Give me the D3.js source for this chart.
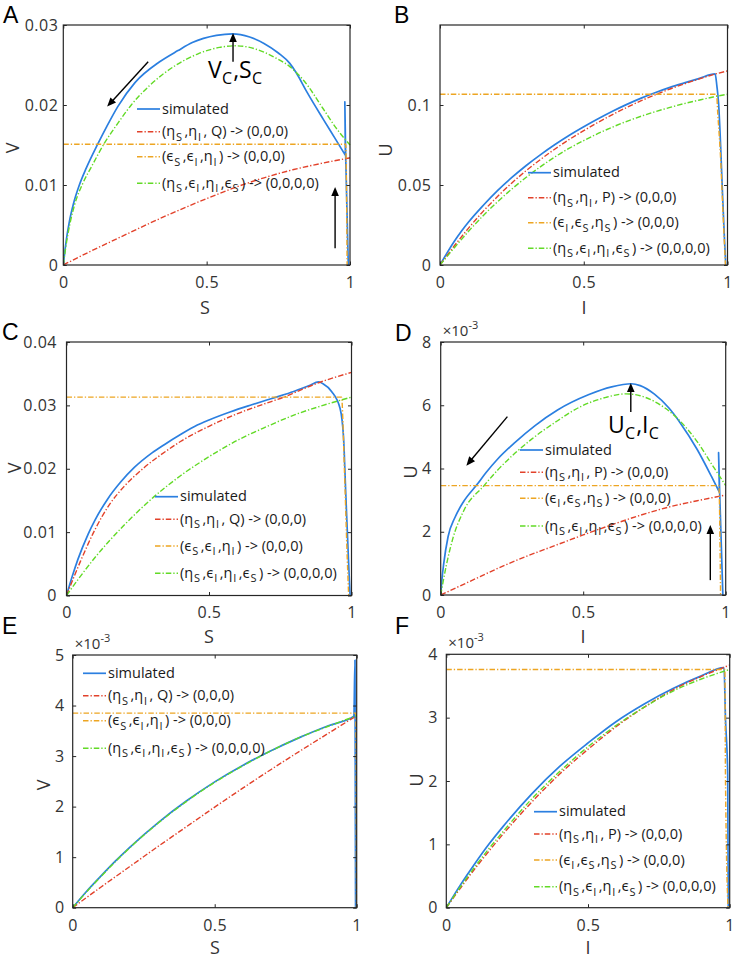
<!DOCTYPE html>
<html><head><meta charset="utf-8">
<script src="https://cdn.jsdelivr.net/npm/d3@7"></script>
<style>body{margin:0;background:#fff}</style>
</head><body>
<svg id="fig" width="736" height="960" xmlns="http://www.w3.org/2000/svg"></svg>
<script>
// ---------------- DATA ----------------
const xTicks = [0, 0.5, 1];
const xTickLabels = ["0", "0.5", "1"];
const yTicksA = [0, 0.01, 0.02, 0.03], yTickLabelsA = ["0", "0.01", "0.02", "0.03"];
const yTicksB = [0, 0.05, 0.1],        yTickLabelsB = ["0", "0.05", "0.1"];
const yTicksC = [0, 0.01, 0.02, 0.03, 0.04], yTickLabelsC = ["0", "0.01", "0.02", "0.03", "0.04"];
const yTicksD = [0, 2, 4, 6, 8],       yTickLabelsD = ["0", "2", "4", "6", "8"];
const yTicksE = [0, 1, 2, 3, 4, 5],    yTickLabelsE = ["0", "1", "2", "3", "4", "5"];
const yTicksF = [0, 1, 2, 3, 4],       yTickLabelsF = ["0", "1", "2", "3", "4"];

const legendSV = ["simulated", "(η_S,η_I, Q) -> (0,0,0)", "(ϵ_S,ϵ_I,η_I) -> (0,0,0)", "(η_S,ϵ_I,η_I,ϵ_S) -> (0,0,0,0)"];
const legendUI = ["simulated", "(η_S,η_I, P) -> (0,0,0)", "(ϵ_I,ϵ_S,η_S) -> (0,0,0)", "(η_S,ϵ_I,η_I,ϵ_S) -> (0,0,0,0)"];

// Panel A : V vs S
const A_sim_x = [0,0.005,0.01,0.021,0.035,0.056,0.08,0.12,0.15,0.19,0.25,0.336,0.4,0.45,0.534,0.59,0.65,0.7,0.75,0.79,0.813,0.85,0.907,0.95,0.984,0.982,0.985,0.994];
const A_sim_y = [0,0.0016,0.0030,0.0054,0.0076,0.0100,0.0121,0.0151,0.0172,0.0198,0.0228,0.0254,0.0268,0.0278,0.0287,0.0289,0.0285,0.0277,0.0265,0.0252,0.0240,0.0216,0.0182,0.0157,0.0137,0.0204,0.0135,0];
const A_red_x = [0,0.1,0.2,0.3,0.4,0.5,0.6,0.7,0.8,0.9,1];
const A_red_y = [0,0.0018,0.0035,0.0052,0.0068,0.0083,0.0097,0.0109,0.0119,0.0127,0.0134];
const A_org_x = [0,0.985,0.99];
const A_org_y = [0.0151,0.0151,0];
const A_grn_x = [0,0.012,0.024,0.04,0.068,0.1,0.143,0.19,0.237,0.3,0.394,0.47,0.545,0.6,0.65,0.7,0.75,0.79,0.84,0.907,0.95,1.0];
const A_grn_y = [0,0.0030,0.0053,0.0076,0.0102,0.0124,0.0152,0.0177,0.0200,0.0224,0.0250,0.0264,0.0272,0.0274,0.0272,0.0266,0.0257,0.0248,0.0230,0.0195,0.0172,0.0150];

// Panel B : U vs I
const B_sim_x = [0,0.025,0.05,0.075,0.1,0.15,0.2,0.25,0.3,0.35,0.4,0.45,0.5,0.55,0.6,0.65,0.7,0.75,0.8,0.85,0.9,0.957,0.963,0.969,0.976,0.983,0.989,0.994];
const B_sim_y = [0,0.0077,0.0148,0.0212,0.0270,0.0372,0.0465,0.0547,0.0622,0.0690,0.0753,0.0811,0.0864,0.0914,0.0961,0.1004,0.1043,0.1078,0.1110,0.1138,0.1165,0.1194,0.1120,0.1010,0.0750,0.0430,0.0180,0];
const B_red_x = [0,0.05,0.1,0.15,0.2,0.25,0.3,0.35,0.4,0.45,0.5,0.55,0.6,0.65,0.7,0.75,0.8,0.85,0.9,0.95,1];
const B_red_y = [0,0.0120,0.0232,0.0335,0.0428,0.0513,0.0590,0.0660,0.0725,0.0785,0.0840,0.0892,0.0940,0.0985,0.1027,0.1065,0.1100,0.1132,0.1162,0.1190,0.1213];
const B_org_x = [0,0.962,0.966,0.975,0.985,0.993];
const B_org_y = [0.1067,0.1067,0.095,0.070,0.030,0];
const B_grn_x = [0,0.05,0.1,0.15,0.2,0.25,0.3,0.35,0.4,0.45,0.5,0.55,0.6,0.65,0.7,0.75,0.8,0.85,0.9,0.95,1.0];
const B_grn_y = [0,0.0108,0.0212,0.0308,0.0395,0.0475,0.0548,0.0615,0.0676,0.0730,0.0778,0.0822,0.0862,0.0898,0.0930,0.0959,0.0985,0.1009,0.1030,0.1050,0.1067];

// Panel C : V vs S
const C_sim_x = [0,0.02,0.04,0.076,0.1,0.144,0.19,0.238,0.3,0.343,0.4,0.459,0.5,0.576,0.65,0.692,0.75,0.797,0.85,0.885,0.9,0.93,0.96,0.972,0.98,0.99,0.995];
const C_sim_y = [0,0.0030,0.0057,0.0097,0.0119,0.0152,0.0179,0.0202,0.0225,0.0238,0.0254,0.0269,0.0277,0.0290,0.0301,0.0307,0.0315,0.0322,0.0331,0.0337,0.0334,0.0322,0.0295,0.0250,0.0160,0.0050,0];
const C_red_x = [0,0.05,0.1,0.15,0.2,0.273,0.35,0.4,0.5,0.6,0.692,0.762,0.8,0.88,0.94,1];
const C_red_y = [0,0.0055,0.0104,0.0143,0.0171,0.0202,0.0228,0.0243,0.0267,0.0287,0.0302,0.0313,0.0320,0.0335,0.0344,0.0352];
const C_org_x = [0,0.965,0.975,0.985,0.99];
const C_org_y = [0.0313,0.0313,0.020,0.006,0];
const C_grn_x = [0,0.05,0.1,0.2,0.3,0.4,0.5,0.6,0.7,0.8,0.9,1];
const C_grn_y = [0,0.0031,0.0060,0.0110,0.0153,0.0189,0.0219,0.0245,0.0266,0.0285,0.0300,0.0313];

// Panel D : U vs I (x 1e-3)
const D_sim_x = [0,0.005,0.01,0.026,0.05,0.08,0.128,0.16,0.2,0.26,0.33,0.41,0.518,0.6,0.669,0.7,0.75,0.8,0.84,0.9,0.95,0.978,0.975,0.979,0.99];
const D_sim_y = [0,0.55,0.95,1.85,2.45,2.95,3.50,3.88,4.30,4.82,5.35,5.85,6.33,6.58,6.68,6.62,6.35,5.92,5.45,4.60,3.75,3.25,4.50,3.20,0];
const D_red_x = [0,0.1,0.225,0.3,0.4,0.5,0.6,0.7,0.8,0.9,1.0];
const D_red_y = [0,0.42,0.94,1.22,1.56,1.90,2.22,2.52,2.78,2.98,3.16];
const D_org_x = [0,0.976,0.982];
const D_org_y = [3.46,3.46,0];
const D_grn_x = [0,0.02,0.043,0.08,0.152,0.2,0.318,0.4,0.494,0.58,0.65,0.7,0.75,0.84,0.9,0.95,1.0];
const D_grn_y = [0,0.95,1.80,2.65,3.46,3.95,4.92,5.45,5.97,6.25,6.36,6.30,6.12,5.50,4.85,4.15,3.46];

// Panel E : V vs S (x 1e-3)
const E_sim_x = [0,0.05,0.1,0.15,0.2,0.3,0.4,0.5,0.6,0.7,0.8,0.9,0.99,0.994,0.996];
const E_sim_y = [0,0.33,0.63,0.92,1.19,1.68,2.11,2.49,2.82,3.11,3.37,3.60,3.79,4.90,0];
const E_red_x = [0,0.1,0.2,0.3,0.4,0.5,0.6,0.7,0.8,0.9,1];
const E_red_y = [0,0.41,0.81,1.21,1.60,1.99,2.37,2.74,3.10,3.45,3.80];
const E_org_x = [0,0.997,0.999];
const E_org_y = [3.85,3.85,0];
const E_grn_x = [0,0.05,0.1,0.15,0.2,0.3,0.4,0.5,0.6,0.7,0.8,0.9,1];
const E_grn_y = [0,0.32,0.62,0.91,1.18,1.67,2.10,2.48,2.81,3.11,3.37,3.59,3.80];

// Panel F : U vs I (x 1e-3)
const F_sim_x = [0,0.05,0.1,0.15,0.2,0.3,0.4,0.5,0.6,0.7,0.8,0.9,0.98,0.985,0.993,0.995];
const F_sim_y = [0,0.36,0.69,1.00,1.28,1.79,2.23,2.60,2.94,3.22,3.46,3.66,3.79,3.0,2.1,0];
const F_red_x = [0,0.05,0.1,0.15,0.2,0.3,0.4,0.5,0.6,0.7,0.8,0.9,1];
const F_red_y = [0,0.31,0.61,0.89,1.16,1.66,2.11,2.50,2.86,3.17,3.44,3.65,3.83];
const F_org_x = [0,0.983,0.985,0.994];
const F_org_y = [3.76,3.76,2.1,0];
const F_grn_x = [0,0.05,0.1,0.15,0.2,0.3,0.4,0.5,0.6,0.7,0.8,0.9,1];
const F_grn_y = [0,0.33,0.64,0.93,1.20,1.71,2.15,2.54,2.88,3.17,3.42,3.61,3.76];

// annotations (data units): arrows [x1,y1,x2,y2] tail -> tip
const A_arrows = [[0.592,0.0254,0.592,0.0290],[0.296,0.0254,0.153,0.0198],[0.948,0.0021,0.948,0.00975]];
const A_note = {x:0.505, y:0.0234, text:"V_C,S_C"};
const D_arrows = [[0.667,5.79,0.667,6.70],[0.234,5.64,0.090,4.09],[0.946,0.47,0.946,2.21]];
const D_note = {x:0.587, y:5.12, text:"U_C,I_C"};

// ---------------- DRAWING ----------------
const svg = d3.select('#fig');
const FONT = "'Open Sans','Noto Sans',sans-serif";
const colBlue = '#2b7fe0', colRed = '#e2412a', colOrange = '#eda522', colGreen = '#62da26', axisCol = '#262626', textCol = '#333333';
const styles = [
  {color: colBlue, w: 1.7, dash: null},
  {color: colRed, w: 1.4, dash: '5.5,2,1.3,2'},
  {color: colOrange, w: 1.4, dash: '5.5,2,1.3,2'},
  {color: colGreen, w: 1.4, dash: '5.5,2,1.3,2'}
];

function rich(sel, str, subSize, subDy, gap) {
  let buf = '', shift = 0, dx = 0;
  const flush = () => {
    if (buf) {
      const t = sel.append('tspan').text(buf);
      if (shift) t.attr('dy', shift);
      if (dx) t.attr('dx', dx);
      shift = 0; dx = 0; buf = '';
    }
  };
  for (let i = 0; i < str.length; i++) {
    const c = str[i];
    if (c === '_') {
      flush();
      sel.append('tspan').attr('dy', subDy + shift).attr('dx', gap * 0.3).attr('font-size', subSize).text(str[i + 1]);
      shift = -subDy; dx = gap; i++;
      continue;
    }
    buf += c;
  }
  flush();
}

function arrow(g, x1, y1, x2, y2) {
  const L = 9, hw = 3.8;
  const dx = x2 - x1, dy = y2 - y1, len = Math.hypot(dx, dy);
  const ux = dx / len, uy = dy / len;
  const bx = x2 - ux * L, by = y2 - uy * L;
  g.append('line').attr('x1', x1).attr('y1', y1).attr('x2', bx + ux).attr('y2', by + uy)
    .attr('stroke', '#000').attr('stroke-width', 1.4);
  g.append('path').attr('d', `M${x2},${y2}L${bx - uy * hw},${by + ux * hw}L${bx + uy * hw},${by - ux * hw}Z`).attr('fill', '#000');
}

const panels = [
  {id:'A', l:63.3, r:350, t:25, b:265, ymax:0.03, yt:yTicksA, ytl:yTickLabelsA, ypad:5, xl:'S', yl:'V',
   xlab:[205,308], ylab:[13,148], letter:[3,23], exp:false,
   series:[[A_sim_x,A_sim_y],[A_red_x,A_red_y],[A_org_x,A_org_y],[A_grn_x,A_grn_y]], leg:legendSV, legX:137, legY:[109,131.7,156.7,183.3],
   arrows:A_arrows, note:A_note},
  {id:'B', l:440, r:727.5, t:25, b:265, ymax:0.15, yt:yTicksB, ytl:yTickLabelsB, ypad:8.5, xl:'I', yl:'U',
   xlab:[584,308], ylab:[386,150], letter:[394,23], exp:false,
   series:[[B_sim_x,B_sim_y],[B_red_x,B_red_y],[B_org_x,B_org_y],[B_grn_x,B_grn_y]], leg:legendUI, legX:528, legY:[172.7,197.7,222.7,248.3]},
  {id:'C', l:66.5, r:351.5, t:342, b:595.5, ymax:0.04, yt:yTicksC, ytl:yTickLabelsC, ypad:9.5, xl:'S', yl:'V',
   xlab:[209,637], ylab:[15,468], letter:[2,340], exp:false,
   series:[[C_sim_x,C_sim_y],[C_red_x,C_red_y],[C_org_x,C_org_y],[C_grn_x,C_grn_y]], leg:legendSV, legX:155, legY:[496.7,519.3,546,573.3]},
  {id:'D', l:440.7, r:725.7, t:342, b:595, ymax:8, yt:yTicksD, ytl:yTickLabelsD, ypad:9, xl:'I', yl:'U',
   xlab:[583,637], ylab:[411,472], letter:[395,341], exp:true,
   series:[[D_sim_x,D_sim_y],[D_red_x,D_red_y],[D_org_x,D_org_y],[D_grn_x,D_grn_y]], leg:legendUI, legX:520, legY:[450,472.3,498.3,526],
   arrows:D_arrows, note:D_note},
  {id:'E', l:72.7, r:356.7, t:655, b:907.7, ymax:5, yt:yTicksE, ytl:yTickLabelsE, ypad:8, xl:'S', yl:'V',
   xlab:[215,948], ylab:[44,785], letter:[2,634], exp:true,
   series:[[E_sim_x,E_sim_y],[E_red_x,E_red_y],[E_org_x,E_org_y],[E_grn_x,E_grn_y]], leg:legendSV, legX:83, legY:[673.3,695.7,720.7,748.3]},
  {id:'F', l:446.3, r:729.7, t:654.3, b:907.7, ymax:4, yt:yTicksF, ytl:yTickLabelsF, ypad:8.5, xl:'I', yl:'U',
   xlab:[588,948], ylab:[417,780], letter:[395,634], exp:true,
   series:[[F_sim_x,F_sim_y],[F_red_x,F_red_y],[F_org_x,F_org_y],[F_grn_x,F_grn_y]], leg:legendUI, legX:534, legY:[811.7,834,860,886.7]}
];

const defs = svg.append('defs');

panels.forEach(p => {
  const x = d3.scaleLinear().domain([0, 1]).range([p.l, p.r]);
  const y = d3.scaleLinear().domain([0, p.ymax]).range([p.b, p.t]);
  const g = svg.append('g').attr('id', 'panel' + p.id);

  defs.append('clipPath').attr('id', 'clip' + p.id).append('rect')
    .attr('x', p.l).attr('y', p.t - 1).attr('width', p.r - p.l + 1).attr('height', p.b - p.t + 2);

  // curves: smooth monotone part while x increases, straight segments afterwards
  const smooth = d3.line().x(d => x(d[0])).y(d => y(d[1])).curve(d3.curveMonotoneX);
  const pathOf = pts => {
    let k = pts.length;
    for (let i = 1; i < pts.length; i++) { if (pts[i][0] <= pts[i - 1][0]) { k = i; break; } }
    let d = smooth(pts.slice(0, k));
    for (let i = k; i < pts.length; i++) d += `L${x(pts[i][0])},${y(pts[i][1])}`;
    return d;
  };
  const cg = g.append('g').attr('clip-path', `url(#clip${p.id})`);
  p.series.forEach((s, i) => {
    cg.append('path').attr('d', pathOf(d3.zip(s[0], s[1])))
      .attr('fill', 'none').attr('stroke', styles[i].color).attr('stroke-width', styles[i].w)
      .attr('stroke-dasharray', styles[i].dash).attr('stroke-linejoin', 'round');
  });

  // axes
  const tk = 3.5;
  const axB = g.append('g').attr('transform', `translate(0,${p.b})`)
    .call(d3.axisBottom(x).tickValues(xTicks).tickFormat((d, i) => xTickLabels[i]).tickSizeInner(-tk).tickSizeOuter(0).tickPadding(11.5));
  const axT = g.append('g').attr('transform', `translate(0,${p.t})`)
    .call(d3.axisTop(x).tickValues(xTicks).tickFormat('').tickSizeInner(-tk).tickSizeOuter(0));
  const axL = g.append('g').attr('transform', `translate(${p.l},0)`)
    .call(d3.axisLeft(y).tickValues(p.yt).tickFormat((d, i) => p.ytl[i]).tickSizeInner(-tk).tickSizeOuter(0).tickPadding(p.ypad));
  const axR = g.append('g').attr('transform', `translate(${p.r},0)`)
    .call(d3.axisRight(y).tickValues(p.yt).tickFormat('').tickSizeInner(-tk).tickSizeOuter(0));
  [axB, axT, axL, axR].forEach(a => {
    a.select('.domain').remove();
    a.selectAll('line').attr('stroke', axisCol).attr('stroke-width', 1);
    a.selectAll('text').attr('font-family', FONT).attr('font-size', 16).attr('fill', textCol).attr('letter-spacing', 0.5);
  });
  g.append('rect').attr('x', p.l).attr('y', p.t).attr('width', p.r - p.l).attr('height', p.b - p.t)
    .attr('fill', 'none').attr('stroke', axisCol).attr('stroke-width', 1.2);

  // axis labels
  g.append('text').attr('x', p.xlab[0]).attr('y', p.xlab[1]).attr('dy', '0.36em').attr('text-anchor', 'middle')
    .attr('font-family', FONT).attr('font-size', 18).attr('fill', textCol).text(p.xl);
  g.append('text').attr('transform', `translate(${p.ylab[0]},${p.ylab[1]}) rotate(-90)`).attr('dy', '0.36em').attr('text-anchor', 'middle')
    .attr('font-family', FONT).attr('font-size', 18).attr('fill', textCol).text(p.yl);

  // panel letter
  g.append('text').attr('x', p.letter[0]).attr('y', p.letter[1]).attr('font-family', "'Liberation Sans',Arial,sans-serif")
    .attr('font-size', 23).attr('fill', '#000').text(p.id);

  // exponent label
  if (p.exp) {
    const et = g.append('text').attr('x', p.l + 2).attr('y', p.t - 6).attr('font-family', FONT).attr('font-size', 15).attr('fill', textCol);
    et.append('tspan').text('×10');
    et.append('tspan').attr('dy', -7).attr('font-size', 11).text('-3');
  }

  // legend
  p.leg.forEach((lab, i) => {
    const yy = p.legY[i];
    g.append('line').attr('x1', p.legX).attr('x2', p.legX + 23).attr('y1', yy).attr('y2', yy)
      .attr('stroke', styles[i].color).attr('stroke-width', styles[i].w).attr('stroke-dasharray', styles[i].dash);
    const t = g.append('text').attr('x', p.legX + 25).attr('y', yy + 4.6).attr('font-family', FONT)
      .attr('font-size', 14.5).attr('fill', '#1a1a1a');
    rich(t, lab, 11, 4.5, 2.5);
  });

  // annotations
  if (p.arrows) {
    p.arrows.forEach(a => arrow(g, x(a[0]), y(a[1]), x(a[2]), y(a[3])));
    const t = g.append('text').attr('x', x(p.note.x)).attr('y', y(p.note.y)).attr('font-family', FONT)
      .attr('font-size', 23).attr('fill', '#000');
    rich(t, p.note.text, 16, 6, 1);
  }
});
</script>
</body></html>
